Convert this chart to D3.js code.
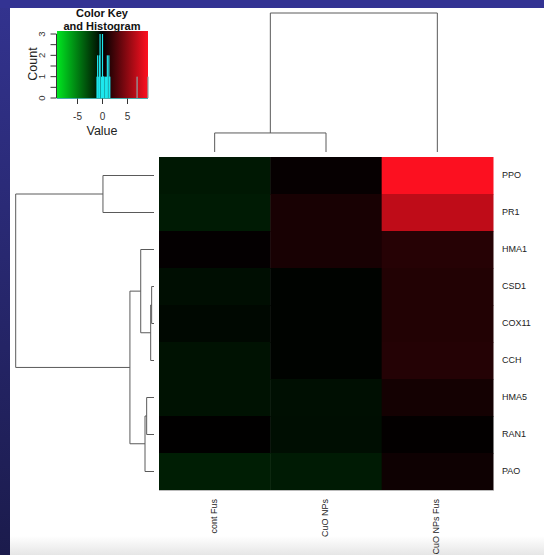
<!DOCTYPE html>
<html>
<head>
<meta charset="utf-8">
<script src="https://cdn.jsdelivr.net/npm/d3@7"></script>
<style>
  body { margin: 0; padding: 0; background: #fff; }
  svg { display: block; }
  text { font-family: "Liberation Sans", Arial, sans-serif; }
</style>
</head>
<body>
<div id="my_dataviz"></div>
<script>
// ---- data ----
var rowLabels = ["PPO", "PR1", "HMA1", "CSD1", "COX11", "CCH", "HMA5", "RAN1", "PAO"];
var colLabels = ["cont Fus", "CuO NPs", "CuO NPs Fus"];

var contFus   = [-0.95, -1.05, 0.15, -0.55, -0.3, -0.7, -0.7, 0.05, -1.2];
var cuoNPs    = [0.2, 0.85, 0.85, -0.1, -0.1, -0.1, -0.6, -0.55, -1.05];
var cuoNPsFus = [9.0, 6.8, 1.35, 1.2, 1.2, 1.3, 0.7, 0.1, 0.5];

// dendrogram merge heights (root = 10)
var rowTree = { h: 10, children: [
  { h: 3.69, children: [{ name: "PPO" }, { name: "PR1" }] },
  { h: 1.74, children: [
    { h: 0.96, children: [
      { name: "HMA1" },
      { h: 0.24, children: [
        { h: 0.17, children: [{ name: "CSD1" }, { name: "COX11" }] },
        { name: "CCH" }
      ] }
    ] },
    { h: 0.65, children: [
      { h: 0.53, children: [{ name: "HMA5" }, { name: "RAN1" }] },
      { name: "PAO" }
    ] }
  ] }
] };
var colTree = { h: 10, children: [
  { h: 1.37, children: [{ name: "cont Fus" }, { name: "CuO NPs" }] },
  { name: "CuO NPs Fus" }
] };

var keyTicksX = [-5, 0, 5];
var keyTicksY = [0, 0.5, 1, 1.5, 2, 2.5, 3];

var W = 544, H = 555;

var svg = d3.select("#my_dataviz")
  .append("svg")
  .attr("width", W)
  .attr("height", H);

// ---- slide background ----
var defs = svg.append("defs");
var bg = defs.append("linearGradient").attr("id", "bgGrad")
  .attr("x1", 0).attr("y1", 0).attr("x2", 0).attr("y2", 1);
bg.append("stop").attr("offset", "0%").attr("stop-color", "#33338f");
bg.append("stop").attr("offset", "100%").attr("stop-color", "#1b1b4c");

var foot = defs.append("linearGradient").attr("id", "footGrad")
  .attr("x1", 0).attr("y1", 0).attr("x2", 0).attr("y2", 1);
foot.append("stop").attr("offset", "0%").attr("stop-color", "#ffffff");
foot.append("stop").attr("offset", "100%").attr("stop-color", "#e6e6e6");

svg.append("rect").attr("width", W).attr("height", H).attr("fill", "url(#bgGrad)");
svg.append("rect").attr("x", 0).attr("y", 0).attr("width", W).attr("height", 8).attr("fill", "#333393");
svg.append("rect").attr("x", 10).attr("y", 8).attr("width", W - 10).attr("height", H - 8).attr("fill", "#fff");
svg.append("rect").attr("x", 10).attr("y", 536).attr("width", W - 10).attr("height", H - 536).attr("fill", "url(#footGrad)");

// ---- scales ----
var x = d3.scaleBand().domain(colLabels).range([159, 493]);
var y = d3.scaleBand().domain(rowLabels).range([157, 490]);

var color = d3.scaleLinear()
  .domain([-9.1, 0, 9.1])
  .range(["#00e620", "#000000", "#ff1020"])
  .clamp(true);

var cells = [];
rowLabels.forEach(function (r, i) {
  cells.push({ row: r, col: colLabels[0], value: contFus[i] });
  cells.push({ row: r, col: colLabels[1], value: cuoNPs[i] });
  cells.push({ row: r, col: colLabels[2], value: cuoNPsFus[i] });
});

// ---- heatmap ----
svg.append("g")
  .selectAll("rect")
  .data(cells)
  .enter()
  .append("rect")
  .attr("x", function (d) { return x(d.col); })
  .attr("y", function (d) { return y(d.row); })
  .attr("width", x.bandwidth() + 0.5)
  .attr("height", y.bandwidth() + 0.5)
  .attr("fill", function (d) { return color(d.value); });

svg.append("line")
  .attr("x1", 159).attr("x2", 493)
  .attr("y1", 490.5).attr("y2", 490.5)
  .attr("stroke", "#bbb");

svg.append("g")
  .selectAll("text")
  .data(rowLabels)
  .enter()
  .append("text")
  .attr("x", 502)
  .attr("y", function (d) { return y(d) + y.bandwidth() / 2; })
  .attr("dominant-baseline", "middle")
  .attr("font-size", "9px")
  .attr("fill", "#222")
  .text(function (d) { return d; });

svg.append("g")
  .selectAll("text")
  .data(colLabels)
  .enter()
  .append("text")
  .attr("transform", function (d) {
    return "translate(" + (x(d) + x.bandwidth() / 2 + 2) + ",499) rotate(-90)";
  })
  .attr("text-anchor", "end")
  .attr("font-size", "9px")
  .attr("fill", "#222")
  .text(function (d) { return d; });

// ---- dendrograms ----
function layoutTree(tree, leafPos) {
  var root = d3.hierarchy(tree);
  root.eachAfter(function (n) {
    if (!n.children) {
      n.pos = leafPos(n.data.name);
      n.hgt = 0;
    } else {
      n.pos = d3.mean(n.children, function (c) { return c.pos; });
      n.hgt = n.data.h;
    }
  });
  return root;
}

function elbowSegments(root) {
  var segs = [];
  root.each(function (n) {
    if (!n.children) return;
    var a = n.children[0], b = n.children[n.children.length - 1];
    segs.push({ h0: n.hgt, h1: n.hgt, p0: a.pos, p1: b.pos });
    n.children.forEach(function (c) {
      segs.push({ h0: n.hgt, h1: c.hgt, p0: c.pos, p1: c.pos });
    });
  });
  return segs;
}

var rowH = d3.scaleLinear().domain([0, 10]).range([154, 15.7]);
var rowRoot = layoutTree(rowTree, function (name) { return y(name) + y.bandwidth() / 2; });

svg.append("g")
  .selectAll("line")
  .data(elbowSegments(rowRoot))
  .enter()
  .append("line")
  .attr("x1", function (d) { return rowH(d.h0); })
  .attr("x2", function (d) { return rowH(d.h1); })
  .attr("y1", function (d) { return d.p0; })
  .attr("y2", function (d) { return d.p1; })
  .attr("stroke", "#5a5a5a")
  .attr("stroke-width", 1);

var colH = d3.scaleLinear().domain([0, 10]).range([152, 13]);
var colRoot = layoutTree(colTree, function (name) { return x(name) + x.bandwidth() / 2; });

svg.append("g")
  .selectAll("line")
  .data(elbowSegments(colRoot))
  .enter()
  .append("line")
  .attr("y1", function (d) { return colH(d.h0); })
  .attr("y2", function (d) { return colH(d.h1); })
  .attr("x1", function (d) { return d.p0; })
  .attr("x2", function (d) { return d.p1; })
  .attr("stroke", "#5a5a5a")
  .attr("stroke-width", 1);

// ---- colour key and histogram ----
var kx = d3.scaleLinear().domain([-9.1, 9.1]).range([57, 148]);
var ky = d3.scaleLinear().domain([0, 3]).range([98, 34]);

var kg = defs.append("linearGradient").attr("id", "keyGrad")
  .attr("x1", 0).attr("y1", 0).attr("x2", 1).attr("y2", 0);
d3.range(0, 1.0001, 0.1).forEach(function (t) {
  kg.append("stop")
    .attr("offset", (t * 100) + "%")
    .attr("stop-color", color(kx.domain()[0] + t * (kx.domain()[1] - kx.domain()[0])));
});

svg.append("rect")
  .attr("x", kx.range()[0])
  .attr("y", 31)
  .attr("width", kx.range()[1] - kx.range()[0])
  .attr("height", 98 - 31)
  .attr("fill", "url(#keyGrad)");

var allValues = contFus.concat(cuoNPs, cuoNPsFus);
var nBins = 300;
var bins = d3.bin()
  .domain(kx.domain())
  .thresholds(d3.range(1, nBins).map(function (i) { return -9.1 + i * 18.2 / nBins; }))(allValues);

svg.append("g")
  .selectAll("rect")
  .data(bins.filter(function (b) { return b.length > 0; }))
  .enter()
  .append("rect")
  .attr("x", function (d) { return kx(d.x0); })
  .attr("width", 1.2)
  .attr("y", function (d) { return ky(Math.min(d.length, 3)); })
  .attr("height", function (d) { return ky(0) - ky(Math.min(d.length, 3)); })
  .attr("fill", function (d) { return d.x0 > 3 ? "#8aa8a8" : "#1ee8ee"; });

// key axes
svg.append("line")
  .attr("x1", 56.5).attr("x2", 56.5)
  .attr("y1", ky(3)).attr("y2", ky(0))
  .attr("stroke", "#333");
svg.append("line")
  .attr("x1", kx.range()[0]).attr("x2", kx.range()[1])
  .attr("y1", 98.5).attr("y2", 98.5)
  .attr("stroke", "#4aa");

svg.append("g")
  .selectAll("line")
  .data(keyTicksY)
  .enter()
  .append("line")
  .attr("x1", 50.5).attr("x2", 56.5)
  .attr("y1", function (d) { return ky(d); })
  .attr("y2", function (d) { return ky(d); })
  .attr("stroke", "#333");

svg.append("g")
  .selectAll("text")
  .data(keyTicksY.filter(function (d) { return d % 1 === 0; }))
  .enter()
  .append("text")
  .attr("transform", function (d) { return "translate(45," + ky(d) + ") rotate(-90)"; })
  .attr("text-anchor", "middle")
  .attr("font-size", "9.5px")
  .attr("fill", "#333")
  .text(function (d) { return d; });

svg.append("g")
  .selectAll("line")
  .data(keyTicksX)
  .enter()
  .append("line")
  .attr("x1", function (d) { return kx(d); })
  .attr("x2", function (d) { return kx(d); })
  .attr("y1", 98.5).attr("y2", 104)
  .attr("stroke", "#333");

svg.append("g")
  .selectAll("text")
  .data(keyTicksX)
  .enter()
  .append("text")
  .attr("x", function (d) { return kx(d); })
  .attr("y", 117)
  .attr("text-anchor", "middle")
  .attr("dominant-baseline", "middle")
  .attr("font-size", "10px")
  .attr("fill", "#333")
  .text(function (d) { return d; });

svg.append("text")
  .attr("x", 102).attr("y", 132)
  .attr("text-anchor", "middle")
  .attr("dominant-baseline", "middle")
  .attr("font-size", "12.5px")
  .attr("fill", "#222")
  .text("Value");

svg.append("text")
  .attr("transform", "translate(37,64) rotate(-90)")
  .attr("text-anchor", "middle")
  .attr("font-size", "12.5px")
  .attr("fill", "#222")
  .text("Count");

svg.append("text")
  .attr("x", 102).attr("y", 17)
  .attr("text-anchor", "middle")
  .attr("font-size", "11px")
  .attr("font-weight", "bold")
  .attr("fill", "#111")
  .text("Color Key");
svg.append("text")
  .attr("x", 102).attr("y", 30)
  .attr("text-anchor", "middle")
  .attr("font-size", "11px")
  .attr("font-weight", "bold")
  .attr("fill", "#111")
  .text("and Histogram");
</script>
</body>
</html>
